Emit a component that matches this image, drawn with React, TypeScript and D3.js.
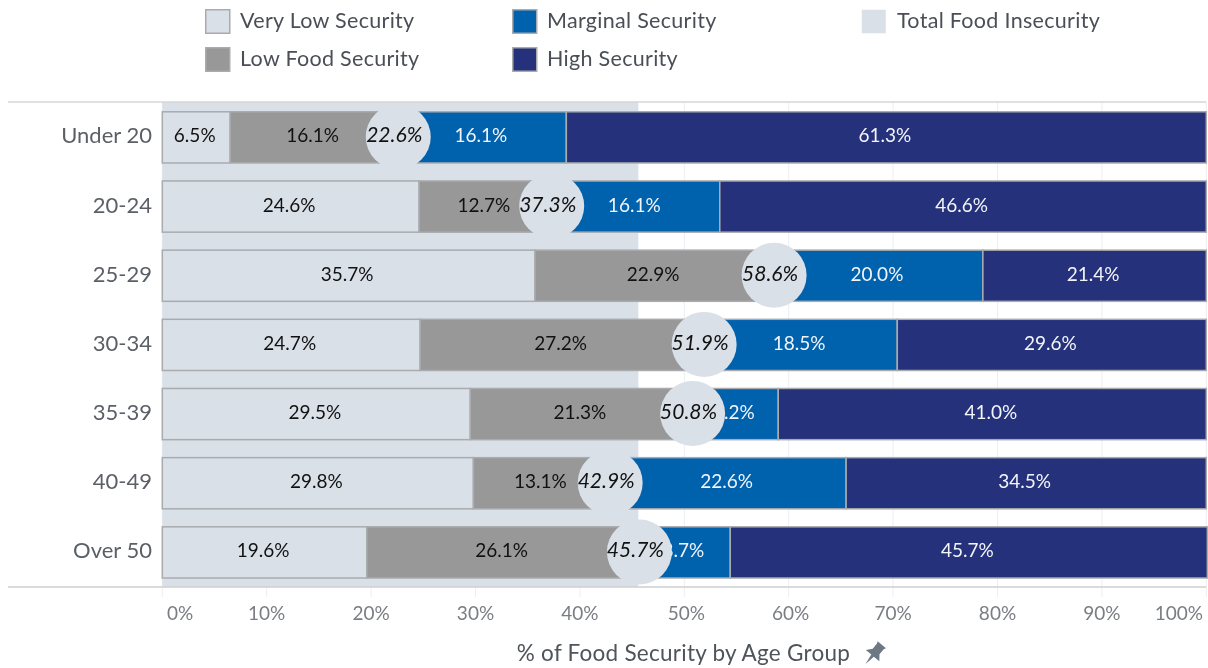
import React from "react";
import * as d3 from "d3";

const ageGroups = ["Under 20", "20-24", "25-29", "30-34", "35-39", "40-49", "Over 50"];
const veryLow = [6.5, 24.6, 35.7, 24.7, 29.5, 29.8, 19.6];
const lowFood = [16.1, 12.7, 22.9, 27.2, 21.3, 13.1, 26.1];
const marginal = [16.1, 16.1, 20.0, 18.5, 8.2, 22.6, 8.7];
const high = [61.3, 46.6, 21.4, 29.6, 41.0, 34.5, 45.7];
const totalInsecurity = [22.6, 37.3, 58.6, 51.9, 50.8, 42.9, 45.7];
const averageInsecurity = 45.6;
const xTicks = [0, 10, 20, 30, 40, 50, 60, 70, 80, 90, 100];

const seriesNames = ["Very Low Security", "Low Food Security", "Marginal Security", "High Security"];
const seriesColors = ["#dae0e8", "#989898", "#0061ad", "#25317a"];
const seriesText = ["#111", "#111", "#f2f5fa", "#f2f5fa"];
const seriesValues = [veryLow, lowFood, marginal, high];

const FONT = "Lato, 'Open Sans', sans-serif";
const WIDTH = 1208, HEIGHT = 668;
const INSECURE = "#dae0e8";
const BORDER = "#a9abae";

export default function App() {
  const x = d3.scaleLinear().domain([0, 100]).range([162.3, 1206.3]);
  const y = d3.scaleBand<string>().domain(ageGroups).range([102.8, 587]).paddingInner(0.26).paddingOuter(0.13);
  const bw = y.bandwidth();

  const legend = [
    { label: seriesNames[0], color: seriesColors[0], lx: 205, ly: 9, border: true },
    { label: seriesNames[1], color: seriesColors[1], lx: 205, ly: 47, border: true },
    { label: seriesNames[2], color: seriesColors[2], lx: 512, ly: 9, border: true },
    { label: seriesNames[3], color: seriesColors[3], lx: 512, ly: 47, border: true },
    { label: "Total Food Insecurity", color: INSECURE, lx: 861, ly: 9, border: false },
  ];

  return (
    <div style={{ position: "absolute", left: 0, top: 0 }}>
      <svg width={WIDTH} height={HEIGHT} style={{ display: "block", fontFamily: FONT, filter: "blur(0.45px)" }}>
        <rect width={WIDTH} height={HEIGHT} fill="#fff" />

        {legend.map((l) => (
          <g key={l.label}>
            <rect x={l.lx + 0.75} y={l.ly + 0.75} width={24} height={23.5} fill={l.color}
              stroke={l.border ? BORDER : "none"} strokeWidth={1.5} />
            <text x={l.lx + (l.border ? 35 : 36)} y={l.ly + 19} fontSize={21.5} letterSpacing={0.3} fill="#4a4f57">{l.label}</text>
          </g>
        ))}

        {xTicks.map((t) => (
          <line key={t} x1={x(t)} x2={x(t)} y1={102} y2={597} stroke="#eceef0" strokeWidth={1} />
        ))}
        <rect x={x(0)} y={102} width={x(averageInsecurity) - x(0)} height={485} fill={INSECURE} />
        <line x1={8} x2={1206} y1={102} y2={102} stroke="#d6d6d6" strokeWidth={1.5} />
        <line x1={8} x2={1206} y1={587} y2={587} stroke="#cfcfcf" strokeWidth={1.5} />

        {ageGroups.map((g, i) => {
          const top = y(g)!;
          const cy = top + bw / 2;
          const starts = d3.cumsum([0, ...seriesValues.map((s) => s[i])]);
          return (
            <g key={g}>
              {seriesValues.map((s, k) => (
                <rect key={k} x={x(starts[k])} y={top} width={x(starts[k + 1]) - x(starts[k])} height={bw}
                  fill={seriesColors[k]} stroke={BORDER} strokeWidth={1.5} />
              ))}
              {seriesValues.map((s, k) => (
                <text key={k} x={x(starts[k] + s[i] / 2) - 1.5} y={cy + 5} textAnchor="middle" fontSize={19}
                  fill={seriesText[k]}>{s[i].toFixed(1)}%</text>
              ))}
              <circle cx={x(totalInsecurity[i])} cy={cy - 0.5} r={32.5} fill={INSECURE} />
              <text x={x(totalInsecurity[i]) - 4} y={cy + 5} textAnchor="middle" fontSize={21} fontStyle="italic"
                fill="#111">{totalInsecurity[i].toFixed(1)}%</text>
              <text x={152} y={cy + 6} textAnchor="end" fontSize={22} fill="#5b5f66">{g}</text>
            </g>
          );
        })}

        {xTicks.map((t, i) => (
          <text key={t} x={i === 0 ? 167 : i === xTicks.length - 1 ? 1203 : x(t) + (t >= 50 && t <= 60 ? 2 : 0)} y={620}
            textAnchor={i === 0 ? "start" : i === xTicks.length - 1 ? "end" : "middle"}
            fontSize={19} fill="#7a7d83">{t}%</text>
        ))}

        <text x={683.5} y={661} textAnchor="middle" fontSize={22.5} letterSpacing={0.25} fill="#4f545b">% of Food Security by Age Group</text>
        <g transform="translate(874,654) rotate(40) scale(1.1)" fill="#6e7885">
          <path d="M-5 -11 L5 -11 L4 -9 L4 -3 L8 2 L1.5 2 L0 12 L-1.5 2 L-8 2 L-4 -3 L-4 -9 Z" />
        </g>
      </svg>
    </div>
  );
}
